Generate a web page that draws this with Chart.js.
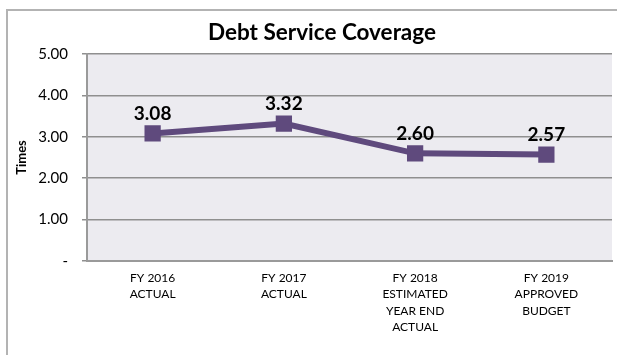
<!DOCTYPE html>
<html>
<head>
<meta charset="utf-8">
<script src="https://cdn.jsdelivr.net/npm/chart.js@4/dist/chart.umd.min.js"></script>
<style>
  html,body{margin:0;padding:0;background:#fff;}
  #wrap{position:relative;width:617px;height:355px;overflow:hidden;}
  #frame{position:absolute;left:6px;top:9px;width:700px;height:400px;border-left:2px solid #b3b3b3;border-top:2px solid #b3b3b3;}
  canvas{position:absolute;left:0;top:0;}
</style>
</head>
<body>
<div id="wrap">
  <div id="frame"></div>
  <canvas id="dsc" width="617" height="355"></canvas>
</div>
<script>
'use strict';

// fiscal years and coverage ratio
var CATEGORIES=[
  ['FY 2016','ACTUAL'],
  ['FY 2017','ACTUAL'],
  ['FY 2018','ESTIMATED','YEAR END','ACTUAL'],
  ['FY 2019','APPROVED','BUDGET']
];
var COVERAGE=[3.08,3.32,2.60,2.57];
var Y_TICKS=[0,1,2,3,4,5];
var TITLE='Debt Service Coverage';

var FONT='Lato, "Open Sans", sans-serif';
var PURPLE='#5f4a7d';

// light plot background behind the grid, and the heading centred on the outer frame
var plotBg={
  id:'plotBg',
  beforeDraw:function(chart){
    var a=chart.chartArea,c=chart.ctx;
    c.save();c.fillStyle='#ecebf0';
    c.fillRect(a.left,a.top,a.right-a.left,a.bottom-a.top);
    c.font='bold 22.5px '+FONT;c.fillStyle='#000';
    c.textAlign='center';c.textBaseline='middle';
    c.fillText(TITLE,322,33);
    c.restore();
  }
};

// value printed above each marker
var valueLabels={
  id:'valueLabels',
  afterDatasetsDraw:function(chart){
    var c=chart.ctx,meta=chart.getDatasetMeta(0);
    c.save();
    c.font='bold 19px '+FONT;c.fillStyle='#000';
    c.textAlign='center';c.textBaseline='bottom';
    for(var i=0;i<meta.data.length;i++){
      var p=meta.data[i];
      c.fillText(COVERAGE[i].toFixed(2),p.x,p.y-10);
    }
    c.restore();
  }
};

new Chart(document.getElementById('dsc'),{
  type:'line',
  data:{labels:CATEGORIES,datasets:[{
    data:COVERAGE,borderColor:PURPLE,backgroundColor:PURPLE,borderWidth:6,
    pointStyle:'rect',pointRadius:11.5,pointHoverRadius:11.5,pointBorderWidth:0,tension:0
  }]},
  options:{
    responsive:false,animation:false,devicePixelRatio:1,
    layout:{autoPadding:false,padding:{left:0,right:5,top:54,bottom:0}},
    plugins:{legend:{display:false},tooltip:{enabled:false},title:{display:false}},
    scales:{
      x:{
        offset:true,
        grid:{display:false,drawTicks:false},
        border:{display:true,color:'#9a9a9a',width:2},
        ticks:{color:'#000',font:{family:FONT,size:12,lineHeight:1.36},padding:9,maxRotation:0,autoSkip:false},
        afterFit:function(s){s.height=94;s.paddingLeft=0;s.paddingRight=0;}
      },
      y:{
        min:0,max:5,
        afterBuildTicks:function(s){s.ticks=Y_TICKS.map(function(v){return{value:v};});},
        grid:{color:'#8f8f8f',lineWidth:1.5,tickLength:5,drawTicks:true},
        border:{display:true,color:'#9a9a9a',width:2},
        ticks:{color:'#000',font:{family:FONT,size:15},padding:14,
          callback:function(v){return v===0?'-':v.toFixed(2);}},
        title:{display:true,text:'Times',color:'#000',font:{family:FONT,size:13,weight:'bold'},padding:{top:14,bottom:6}},
        afterFit:function(s){s.width=87;s.paddingTop=0;s.paddingBottom=0;}
      }
    }
  },
  plugins:[plotBg,valueLabels]
});
</script>
</body>
</html>
